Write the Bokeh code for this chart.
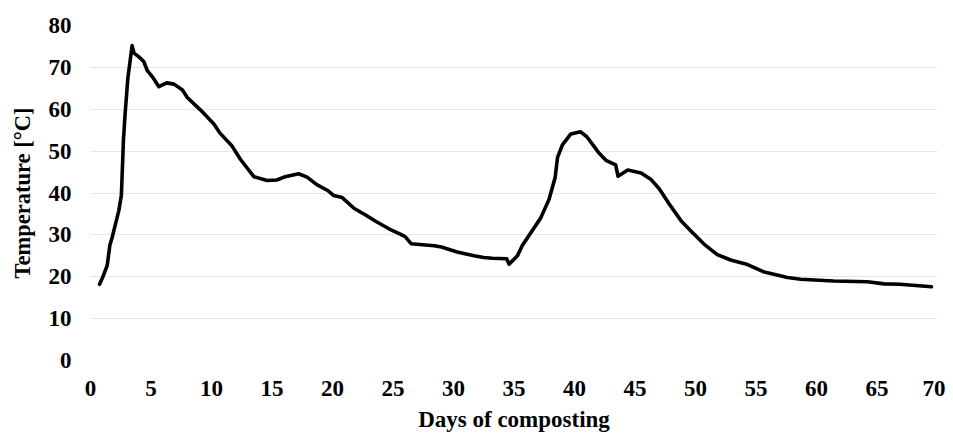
from bokeh.plotting import figure
from bokeh.models import Range1d, FixedTicker
from bokeh.embed import file_html
from bokeh.resources import INLINE

# Data
days = [0.75, 1.0, 1.38, 1.6, 1.8, 2.1, 2.34, 2.55, 2.65, 2.72, 2.85, 3.08, 3.44, 3.6, 4.0,
        4.4, 4.7, 5.1, 5.65, 6.3, 6.9, 7.6, 8.0, 9.1, 10.2, 10.7, 11.7, 12.4, 13.5, 14.6,
        15.4, 16.0, 17.2, 17.9, 18.7, 19.6, 20.1, 20.8, 21.8, 22.7, 23.6, 24.7, 25.6, 26.0,
        26.5, 27.2, 28.4, 29.0, 30.3, 31.7, 32.5, 33.2, 34.4, 34.6, 35.3, 35.7, 36.5, 37.2,
        37.9, 38.4, 38.6, 39.0, 39.7, 40.5, 41.0, 41.6, 42.0, 42.6, 43.4, 43.6, 44.4, 45.5,
        46.3, 47.0, 47.8, 48.8, 49.6, 50.7, 51.8, 52.9, 54.3, 55.6, 57.6, 58.7, 61.4, 64.2,
        65.6, 66.9, 69.5]
temps = [18.2, 19.8, 22.7, 27.5, 29.5, 33.0, 35.8, 39.4, 47.0, 52.5, 58.5, 67.2, 75.2, 73.4, 72.5,
         71.4, 69.2, 67.8, 65.4, 66.3, 66.0, 64.6, 62.8, 59.8, 56.5, 54.3, 51.2, 48.0, 43.9, 43.0,
         43.1, 43.8, 44.6, 43.8, 42.0, 40.6, 39.4, 38.9, 36.3, 34.8, 33.2, 31.4, 30.2, 29.6,
         27.9, 27.7, 27.4, 27.1, 25.9, 25.0, 24.6, 24.4, 24.3, 23.0, 25.1, 27.5, 31.0, 34.0,
         38.5, 43.7, 48.5, 51.5, 54.1, 54.6, 53.5, 51.2, 49.6, 47.8, 46.7, 44.0, 45.5, 44.8,
         43.3, 41.0, 37.5, 33.4, 31.0, 27.8, 25.3, 24.0, 22.9, 21.2, 19.8, 19.4, 19.0, 18.8,
         18.3, 18.2, 17.6]
x_ticks = list(range(0, 71, 5))
y_ticks = list(range(0, 81, 10))

FONT = "Liberation Serif"

p = figure(width=945, height=436, output_backend="svg", toolbar_location=None,
           x_range=Range1d(0, 70), y_range=Range1d(0, 80),
           min_border_left=90, min_border_top=25, min_border_right=8, min_border_bottom=76)

p.line(days, temps, line_color="black", line_width=3.6, line_join="round", line_cap="round")

p.outline_line_color = None
p.background_fill_color = "white"
p.border_fill_color = "white"

p.xgrid.grid_line_color = None
p.ygrid.grid_line_color = "#e6e6e6"
p.ygrid.grid_line_width = 1

p.xaxis.ticker = FixedTicker(ticks=x_ticks)
p.yaxis.ticker = FixedTicker(ticks=y_ticks)

for ax in (p.xaxis, p.yaxis):
    ax.axis_line_color = None
    ax.major_tick_line_color = None
    ax.minor_tick_line_color = None
    ax.major_tick_out = 0
    ax.major_tick_in = 0
    ax.major_label_text_font = FONT
    ax.major_label_text_font_style = "bold"
    ax.major_label_text_font_size = "23px"
    ax.major_label_text_color = "black"
    ax.axis_label_text_font = FONT
    ax.axis_label_text_font_style = "bold"
    ax.axis_label_text_color = "black"

p.xaxis.axis_label = "Days of composting"
p.yaxis.axis_label = "Temperature [°C]"
p.xaxis.axis_label_text_font_size = "23px"
p.yaxis.axis_label_text_font_size = "22.5px"
p.xaxis.major_label_standoff = 20
p.xaxis.axis_label_standoff = 8
p.yaxis.major_label_standoff = 19
p.yaxis.axis_label_standoff = 11

open("out.html", "w").write(file_html(p, INLINE))
